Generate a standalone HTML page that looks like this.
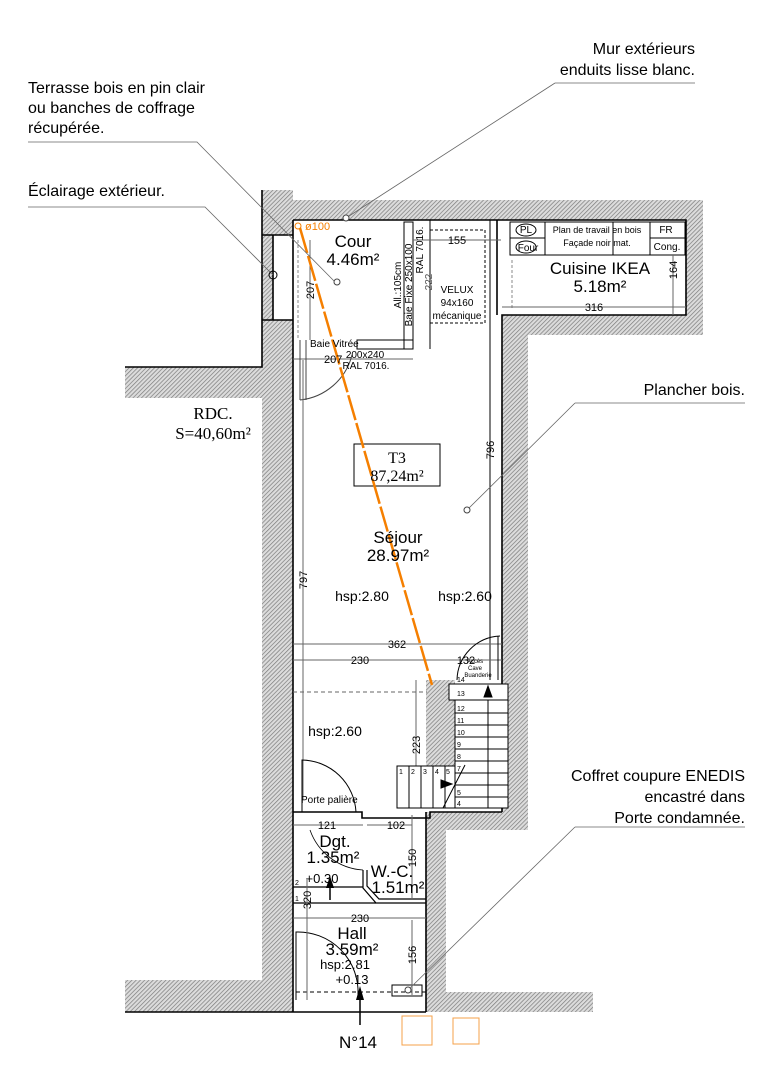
<!DOCTYPE html>
<html><head><meta charset="utf-8"><style>
html,body{margin:0;padding:0;background:#fff}
svg{display:block}
text{font-family:"Liberation Sans",sans-serif;fill:#000}
.s{font-family:"Liberation Serif",serif}
.d{font-size:11px;fill:#555}
</style></head><body>
<svg width="762" height="1080" viewBox="0 0 762 1080" xmlns="http://www.w3.org/2000/svg">
<defs>
<pattern id="h" width="3" height="3" patternUnits="userSpaceOnUse" patternTransform="rotate(45)">
<rect width="3" height="3" fill="#dcdcdc"/><line x1="0" y1="0" x2="0" y2="3" stroke="#7a7a7a" stroke-width="1.4"/>
</pattern>
</defs>
<g fill="url(#h)">
<rect x="262" y="190" width="31" height="45"/>
<rect x="262" y="235" width="11" height="85"/>
<rect x="262" y="320" width="31" height="692"/>
<rect x="125" y="367" width="168" height="31"/>
<rect x="125" y="980" width="168" height="32"/>
<rect x="293" y="200" width="410" height="20"/>
<rect x="686" y="200" width="17" height="135"/>
<rect x="502" y="315" width="201" height="20"/>
<rect x="502" y="315" width="26" height="515"/>
<rect x="430" y="812" width="98" height="18"/>
<rect x="426" y="812" width="20" height="200"/>
<rect x="426" y="992" width="167" height="20"/>
<rect x="426" y="680" width="29" height="128"/>
</g>
<g fill="none" stroke="#000" stroke-width="1.6">
<path d="M262 190V367H125M293 220V1012M293 220H686V315H502V812"/>
<path d="M262 235H293M273 235V320M262 320H293"/>
<path d="M125 1012H293M426 812V1012M293 1012H426"/>
<path d="M293 812H362V818H430V812H502"/>
<path d="M497 220V315"/>
</g>
<g fill="none" stroke="#000" stroke-width="1">
<rect x="404" y="222" width="9" height="127"/>
<rect x="357" y="340" width="56" height="9"/>
<line x1="430" y1="220" x2="430" y2="349"/>
<line x1="490" y1="220" x2="490" y2="680"/>
<rect x="430" y="230" width="55" height="93" stroke-dasharray="3,2"/>
<line x1="413" y1="240" x2="501" y2="240" stroke="#666"/>
<line x1="310" y1="240" x2="310" y2="340" stroke="#666"/>
<line x1="293" y1="359" x2="413" y2="359" stroke="#666"/>
<line x1="298" y1="240" x2="298" y2="340" stroke-dasharray="3,2" stroke="#888"/>
<path d="M300 340V400M306 340V400" stroke="#444"/>
<path d="M300 400A60 60 0 0 0 352 355" stroke="#444"/>
<rect x="510" y="222" width="175" height="33"/>
<path d="M545 222V255M613 222V255M650 222V255M650 238H685M510 238H545"/>
<line x1="512" y1="260" x2="512" y2="310" stroke-dasharray="3,2" stroke="#888"/>
<line x1="502" y1="307" x2="686" y2="307" stroke="#666"/>
<line x1="673" y1="255" x2="673" y2="315" stroke="#666"/>
<ellipse cx="526" cy="230" rx="10" ry="6"/><ellipse cx="526" cy="247" rx="10" ry="6"/>
</g>
<g fill="none" stroke="#666" stroke-width="1">
<line x1="303" y1="360" x2="303" y2="800"/>
<line x1="293" y1="644" x2="502" y2="644"/>
<line x1="293" y1="660" x2="502" y2="660"/>
<line x1="293" y1="692" x2="427" y2="692" stroke-dasharray="4,3"/>
<line x1="416" y1="680" x2="416" y2="808"/>
<rect x="354" y="444" width="86" height="42" stroke="#000"/>
<path d="M457 680A45 45 0 0 1 500 636" stroke="#000"/>
<path d="M498 636V680" stroke="#000"/>
</g>
<g fill="none" stroke="#000" stroke-width="1">
<rect x="455" y="684" width="53" height="124" fill="#fff"/>
<rect x="449" y="684" width="59" height="16" fill="#fff"/>
<path d="M455 713H508M455 725H508M455 737H508M455 749H508M455 761H508M455 773H508M455 785H508M455 797H508"/>
<rect x="397" y="766" width="58" height="42" fill="#fff"/>
<path d="M409 766V808M421 766V808M433 766V808M445 766V808"/>
<line x1="443" y1="808" x2="465" y2="765"/>
<line x1="488" y1="700" x2="488" y2="808"/>
<path d="M484 697L488 686L492 697Z" fill="#000"/>
<path d="M441 788L452 784L441 780Z" fill="#000"/>
<path d="M302 812V760A55 55 0 0 1 356 812"/>
</g>
<g fill="none" stroke="#000" stroke-width="1.2">
<path d="M363 870V888L376 903H426M367 870V886L379 899H426"/>
<line x1="293" y1="887" x2="363" y2="887"/>
<line x1="293" y1="903" x2="376" y2="903"/>
<path d="M296 1000V932A60 60 0 0 1 358 995" stroke-width="1"/>
<line x1="296" y1="992" x2="426" y2="992" stroke-dasharray="4,3" stroke-width="1"/>
<rect x="392" y="985" width="30" height="11" stroke-width="1"/>
<path d="M310 830A60 60 0 0 0 363 870" stroke-width="0.8"/>
</g>
<g stroke="#666" stroke-width="1" fill="none">
<line x1="293" y1="825" x2="363" y2="825"/><line x1="367" y1="825" x2="412" y2="825"/>
<line x1="412" y1="815" x2="412" y2="900"/>
<line x1="307" y1="880" x2="307" y2="1000"/>
<line x1="293" y1="918" x2="426" y2="918"/>
<line x1="412" y1="920" x2="412" y2="995"/>
</g>
<g stroke="#000" stroke-width="1.5"><line x1="330" y1="900" x2="330" y2="880"/><line x1="360" y1="1025" x2="360" y2="990"/></g>
<path d="M326 888L330 876L334 888Z M356 1000L360 986L364 1000Z"/>
<line x1="300" y1="228" x2="432" y2="685" stroke="#f57f00" stroke-width="2.5" stroke-dasharray="26,3"/>
<circle cx="298" cy="226" r="3" fill="none" stroke="#f57f00"/>
<text x="305" y="230" font-size="11" style="fill:#f57f00">ø100</text>
<rect x="402" y="1016" width="30" height="29" fill="none" stroke="#f5a04a"/>
<rect x="453" y="1018" width="26" height="26" fill="none" stroke="#f5a04a"/>
<g stroke="#666" stroke-width="0.8" fill="none">
<path d="M555 83H695M555 83L346 218"/>
<path d="M28 142H197L336 283"/>
<path d="M28 207H205L273 275"/>
<path d="M575 403H745M575 403L467 510"/>
<path d="M575 827H745M575 827L408 990"/>
</g>
<circle cx="346" cy="218" r="3" fill="#fff" stroke="#444"/>
<circle cx="337" cy="282" r="3" fill="#fff" stroke="#444"/>
<circle cx="467" cy="510" r="3" fill="#fff" stroke="#444"/>
<circle cx="408" cy="990" r="3" fill="#fff" stroke="#444"/>
<circle cx="273" cy="275" r="4" fill="none" stroke="#000"/>
<g font-size="16">
<text x="695" y="54" text-anchor="end">Mur extérieurs</text>
<text x="695" y="75" text-anchor="end">enduits lisse blanc.</text>
<text x="28" y="93">Terrasse bois en pin clair</text>
<text x="28" y="113">ou banches de coffrage</text>
<text x="28" y="133">récupérée.</text>
<text x="28" y="196">Éclairage extérieur.</text>
<text x="745" y="395" text-anchor="end">Plancher bois.</text>
<text x="745" y="781" text-anchor="end">Coffret coupure ENEDIS</text>
<text x="745" y="802" text-anchor="end">encastré dans</text>
<text x="745" y="823" text-anchor="end">Porte condamnée.</text>
</g>
<text class="s" x="213" y="419" font-size="17" text-anchor="middle">RDC.</text>
<text class="s" x="213" y="439" font-size="17" text-anchor="middle">S=40,60m²</text>
<g font-size="17" text-anchor="middle">
<text x="353" y="247">Cour</text><text x="353" y="265">4.46m²</text>
<text x="600" y="274">Cuisine IKEA</text><text x="600" y="292">5.18m²</text>
<text x="398" y="543">Séjour</text><text x="398" y="561">28.97m²</text>
<text x="335" y="847">Dgt.</text><text x="333" y="863">1.35m²</text>
<text x="392" y="877">W.-C.</text><text x="398" y="893">1.51m²</text>
<text x="352" y="939">Hall</text><text x="352" y="955">3.59m²</text>
<text x="358" y="1048">N°14</text>
</g>
<text class="s" x="397" y="463" font-size="16" text-anchor="middle">T3</text>
<text class="s" x="397" y="481" font-size="16" text-anchor="middle">87,24m²</text>
<g font-size="14" text-anchor="middle">
<text x="362" y="601">hsp:2.80</text><text x="465" y="601">hsp:2.60</text>
<text x="335" y="736">hsp:2.60</text>
<text x="345" y="969" font-size="13">hsp:2.81</text><text x="352" y="984" font-size="13">+0.13</text>
<text x="322" y="883" font-size="13">+0.30</text>
</g>
<g font-size="10">
<text x="310" y="347">Baie Vitrée</text><text x="365" y="358" text-anchor="middle">200x240</text><text x="366" y="369" text-anchor="middle">RAL 7016.</text>
<text x="457" y="293" text-anchor="middle">VELUX</text><text x="457" y="306" text-anchor="middle">94x160</text><text x="457" y="319" text-anchor="middle">mécanique</text>
<text x="526" y="233" text-anchor="middle">PL</text><text x="528" y="251" text-anchor="middle">Four</text>
<text x="597" y="233" text-anchor="middle" font-size="9">Plan de travail en bois</text>
<text x="597" y="246" text-anchor="middle" font-size="9">Façade noir mat.</text>
<text x="666" y="233" text-anchor="middle">FR</text><text x="667" y="250" text-anchor="middle">Cong.</text>
<text x="301" y="803">Porte palière</text>
<text x="475" y="663" text-anchor="middle" font-size="6">Accès</text>
<text x="475" y="670" text-anchor="middle" font-size="6">Cave</text>
<text x="478" y="677" text-anchor="middle" font-size="6">Buanderie</text>
</g>
<g font-size="7">
<text x="457" y="682">14</text><text x="457" y="696">13</text><text x="457" y="711">12</text><text x="457" y="723">11</text><text x="457" y="735">10</text><text x="457" y="747">9</text><text x="457" y="759">8</text><text x="457" y="771">7</text><text x="457" y="795">5</text><text x="457" y="806">4</text>
<text x="399" y="774">1</text><text x="411" y="774">2</text><text x="423" y="774">3</text><text x="435" y="774">4</text><text x="446" y="774">5</text>
<text x="295" y="885">2</text><text x="295" y="901">1</text>
</g>
<g class="d">
<text x="457" y="244" text-anchor="middle">155</text>
<text x="594" y="311" text-anchor="middle">316</text>
<text x="324" y="363">207</text>
<text x="397" y="648" text-anchor="middle">362</text>
<text x="360" y="664" text-anchor="middle">230</text>
<text x="466" y="664" text-anchor="middle">132</text>
<text x="327" y="829" text-anchor="middle">121</text>
<text x="396" y="829" text-anchor="middle">102</text>
<text x="360" y="922" text-anchor="middle">230</text>
<text transform="translate(314,290) rotate(-90)" text-anchor="middle">207</text>
<text transform="translate(307,580) rotate(-90)" text-anchor="middle">797</text>
<text transform="translate(494,450) rotate(-90)" text-anchor="middle">796</text>
<text transform="translate(677,270) rotate(-90)" text-anchor="middle">164</text>
<text transform="translate(420,745) rotate(-90)" text-anchor="middle">223</text>
<text transform="translate(416,858) rotate(-90)" text-anchor="middle">150</text>
<text transform="translate(416,955) rotate(-90)" text-anchor="middle">156</text>
<text transform="translate(311,900) rotate(-90)" text-anchor="middle">320</text>
</g>
<g font-size="10">
<text transform="translate(401,285) rotate(-90)" text-anchor="middle">All.:105cm</text>
<text transform="translate(412,285) rotate(-90)" text-anchor="middle">Baie Fixe 250x100</text>
<text transform="translate(423,250) rotate(-90)" text-anchor="middle">RAL 7016.</text>
<text transform="translate(432,282) rotate(-90)" text-anchor="middle" class="d" style="font-size:10px">222</text>
</g>
</svg>
</body></html>
